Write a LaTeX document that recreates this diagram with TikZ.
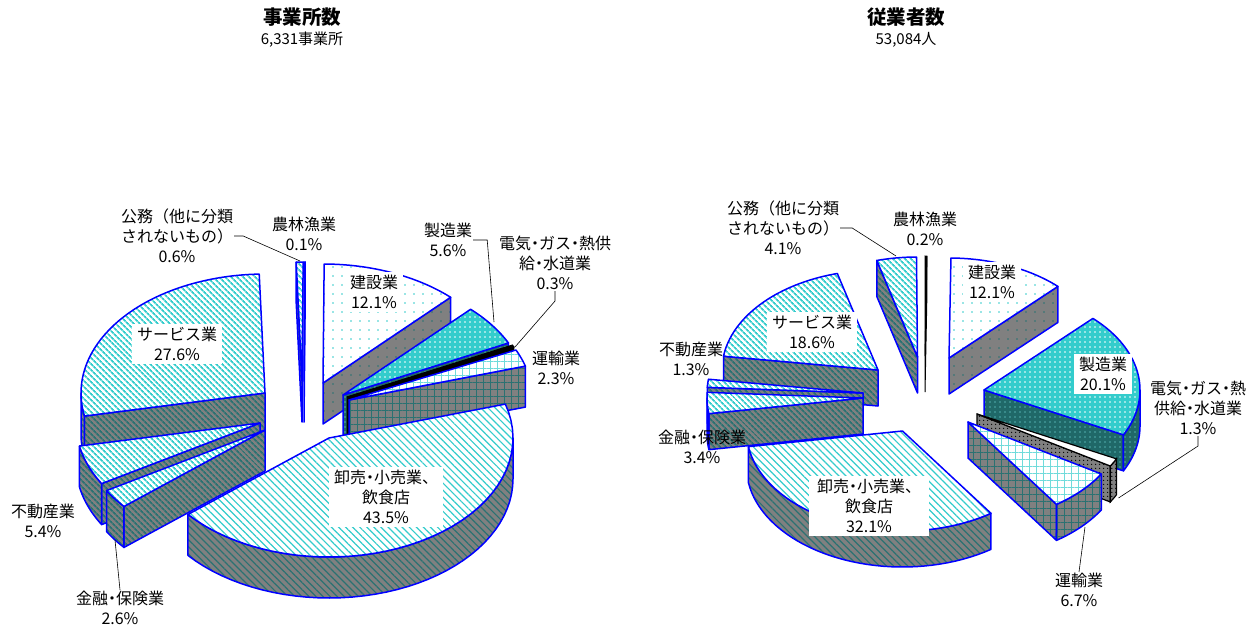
\documentclass[tikz,border=0pt]{standalone}
\usepackage{fontspec}
\setmainfont{Noto Sans CJK JP}
\usetikzlibrary{patterns.meta}
\definecolor{bl}{HTML}{0000FF}
\definecolor{cy}{HTML}{33CCCC}
\definecolor{gs}{HTML}{808080}
\definecolor{tk}{HTML}{2A7272}
\definecolor{tdeep}{HTML}{1F6868}
\newcommand\jd{\kern-.25em・\kern-.25em}
\newcommand\pieTop[5]{\path[#1] (#2,#3) -- plot[variable=\t,domain=#4:#5,samples=40] ({#2+\RX*sin(\t)},{#3-\RY*cos(\t)}) -- cycle;}
\newcommand\pieRad[4]{\path[#1] (#2,#3) -- ({#2+\RX*sin(#4)},{#3-\RY*cos(#4)}) -- ({#2+\RX*sin(#4)},{#3-\RY*cos(#4)+\HH}) -- (#2,{#3+\HH}) -- cycle;}
\newcommand\pieArc[5]{\path[#1] plot[variable=\t,domain=#4:#5,samples=40] ({#2+\RX*sin(\t)},{#3-\RY*cos(\t)}) -- plot[variable=\t,domain=0:1,samples=40] ({#2+\RX*sin(#5-(#5-#4)*\t)},{#3-\RY*cos(#5-(#5-#4)*\t)+\HH}) -- cycle;}
\tikzset{
  ed/.style={draw=bl, line width=1.5pt, line join=round},
  tDots/.style={ed, preaction={fill=white}, pattern={Dots[radius=0.9pt,distance=9pt]}, pattern color=cy},
  sDots/.style={ed, preaction={fill=gs}, pattern={Dots[radius=0.9pt,distance=9pt]}, pattern color=tk},
  tMfg/.style={ed, preaction={fill=cy}, pattern={Dots[radius=0.8pt,distance=5pt]}, pattern color=white},
  sMfg/.style={ed, preaction={fill=tdeep}, pattern={Dots[radius=0.8pt,distance=5pt]}, pattern color=cy!60!gs},
  tGrid/.style={ed, preaction={fill=white}, pattern={Hatch[angle=0,distance=7pt,line width=0.7pt]}, pattern color=cy!70},
  sGrid/.style={ed, preaction={fill=gs}, pattern={Hatch[angle=0,distance=7pt,line width=0.7pt]}, pattern color=tk},
  tDash/.style={ed, preaction={fill=white}, pattern={Lines[angle=-45,distance=5pt,line width=1.2pt]}, pattern color=cy},
  sDash/.style={ed, preaction={fill=gs}, pattern={Lines[angle=-45,distance=5pt,line width=1.2pt]}, pattern color=tk},
  tDiag/.style={ed, preaction={fill=white}, pattern={Lines[angle=-45,distance=4pt,line width=1.8pt]}, pattern color=cy},
  sDiag/.style={ed, preaction={fill=gs}, pattern={Lines[angle=-45,distance=4pt,line width=1.8pt]}, pattern color=tk},
  tBlk/.style={draw=black, line width=1pt, fill=black},
  tElec/.style={draw=black, line width=1.2pt, fill=white},
  sElec/.style={draw=black, line width=1.2pt, preaction={fill=gs}, pattern={Dots[radius=0.8pt,distance=4pt]}, pattern color=black},
  lab/.style={font=\fontsize{16}{20}\selectfont, align=center, inner sep=1pt},
  inlab/.style={lab, fill=white, inner xsep=5pt, inner ysep=3pt},
  ttl/.style={font=\bfseries\fontsize{19.5}{22}\selectfont, inner sep=0pt},
  sub/.style={font=\fontsize{15}{18}\selectfont, inner sep=0pt},
  lead/.style={draw=black, line width=0.6pt},
}
\begin{document}
\begin{tikzpicture}[x=1pt,y=-1pt]
\useasboundingbox (0,0) rectangle (1256,627);
\fill[white] (0,0) rectangle (1256,627);
% ================= left chart =================
\def\RX{184}\def\RY{119}\def\HH{41}
\pieRad{sDiag}{302}{381}{358.2}
\pieTop{tDiag}{302}{381}{358.2}{360.36}
\pieRad{sDots}{304}{381}{0.36}
\pieTop{tDots}{304}{381}{0}{0.36}
\pieRad{sDots}{323}{383}{43.92}
\pieTop{tDots}{323}{383}{0.36}{43.92}
\pieRad{sDiag}{265}{393}{258.84}
\pieArc{sDiag}{265}{393}{258.84}{270}
\pieTop{tDiag}{265}{393}{258.84}{358.2}
\pieRad{sMfg}{343}{395}{64.08}
\pieTop{tMfg}{343}{395}{43.92}{64.08}
\pieRad{tBlk}{347}{397}{65.16}
\pieTop{tBlk}{347}{397}{64.08}{65.16}
\pieRad{sGrid}{349}{400}{73.44}
\pieTop{tGrid}{349}{400}{65.16}{73.44}
\pieRad{sDiag}{260}{423}{239.4}
\pieArc{sDiag}{260}{423}{239.4}{258.84}
\pieTop{tDiag}{260}{423}{239.4}{258.84}
\pieRad{sDiag}{265}{430}{230.04}
\pieArc{sDiag}{265}{430}{230.04}{239.4}
\pieTop{tDiag}{265}{430}{230.04}{239.4}
\pieArc{sDash}{329}{438}{90}{230.04}
\pieTop{tDash}{329}{438}{73.44}{230.04}
% labels left
\node[ttl] (t1) at (302,17) {事業所数};
\node[sub] (s1) at (302,40) {6,331事業所};
\node[lab] (kL) at (177,236) {公務（他に分類\\されないもの）\\0.6\%};
\node[lab] (nL) at (304,234) {農林漁業\\0.1\%};
\node[inlab] (cL) at (374,292) {建設業\\12.1\%};
\node[lab] (mL) at (448,240) {製造業\\5.6\%};
\node[lab] (eL) at (555,263) {電気\jd ガス\jd 熱供\\給\jd 水道業\\0.3\%};
\node[lab] (tL) at (556,368) {運輸業\\2.3\%};
\node[inlab] (wL) at (386,497) {卸売\jd 小売業、\\飲食店\\43.5\%};
\node[lab] (fL) at (120,608) {金融\jd 保険業\\2.6\%};
\node[lab] (rL) at (43,521) {不動産業\\5.4\%};
\node[inlab] (sL) at (177,344) {サービス業\\27.6\%};
\coordinate (kLe) at (300,261);
\coordinate (mLe) at (494,322);
\coordinate (eLe) at (515,347);
\coordinate (fLe) at (115,540);
\draw[lead] (kL.east) -- ++(9,0) -- (kLe);
\draw[lead] (mL.east) -- ++(14,0) -- (mLe);
\draw[lead] (eL.south) -- ++(0,10) -- (eLe);
\draw[lead] (fL.north) -- (fLe);
% ================= right chart =================
\def\RX{156}\def\RY{100}\def\HH{36}
\pieRad{sDiag}{917.5}{357}{344.88}
\pieTop{tDiag}{917.5}{357}{344.88}{359.64}
\pieRad{tBlk}{925}{356}{0.72}
\pieTop{tBlk}{925}{356}{0}{0.72}
\pieRad{sDots}{949}{358}{44.28}
\pieTop{tDots}{949}{358}{0.72}{44.28}
\pieRad{sDiag}{878}{370}{277.92}
\pieTop{tDiag}{878}{370}{277.92}{344.88}
\pieRad{sDiag}{863}{393}{273.24}
\pieTop{tDiag}{863}{393}{273.24}{277.92}
\pieRad{sMfg}{984}{390}{116.64}
\pieArc{sMfg}{984}{390}{90}{116.64}
\pieTop{tMfg}{984}{390}{44.28}{116.64}
\pieRad{sDiag}{863}{398}{261}
\pieArc{sDiag}{863}{398}{261}{270}
\pieTop{tDiag}{863}{398}{261}{273.24}
\pieRad{sElec}{977}{414}{121.32}
\pieArc{sElec}{977}{414}{116.64}{121.32}
\pieTop{tElec}{977}{414}{116.64}{121.32}
\pieRad{sGrid}{968}{422}{145.44}
\pieArc{sGrid}{968}{422}{121.32}{145.44}
\pieTop{tGrid}{968}{422}{121.32}{145.44}
\pieArc{sDash}{902.5}{431}{145.44}{261}
\pieTop{tDash}{902.5}{431}{145.44}{261}
% labels right
\node[ttl] (t2) at (906,17) {従業者数};
\node[sub] (s2) at (906,40) {53,084人};
\node[lab] (kR) at (783,228) {公務（他に分類\\されないもの）\\4.1\%};
\node[lab] (nR) at (925,229) {農林漁業\\0.2\%};
\node[inlab] (cR) at (992,282) {建設業\\12.1\%};
\node[inlab] (sR) at (812,332) {サービス業\\18.6\%};
\node[lab] (rR) at (691,359) {不動産業\\1.3\%};
\node[inlab] (mR) at (1103,374) {製造業\\20.1\%};
\node[lab] (eR) at (1198,408) {電気\jd ガス\jd 熱\\供給\jd 水道業\\1.3\%};
\node[lab] (tR) at (1079,590) {運輸業\\6.7\%};
\node[lab] (fR) at (702,447) {金融\jd 保険業\\3.4\%};
\node[inlab, inner xsep=8pt] (wR) at (869,506) {卸売\jd 小売業、\\飲食店\\32.1\%};
\coordinate (kRe) at (896,256);
\coordinate (eRe) at (1118.5,498);
\coordinate (tRe) at (1085,527);
\draw[lead] (kR.east) -- ++(12,0) -- (kRe);
\draw[lead] (eR.south) -- ++(0,10) -- (eRe);
\draw[lead] (tR.north) -- (tRe);
\end{tikzpicture}
\end{document}
